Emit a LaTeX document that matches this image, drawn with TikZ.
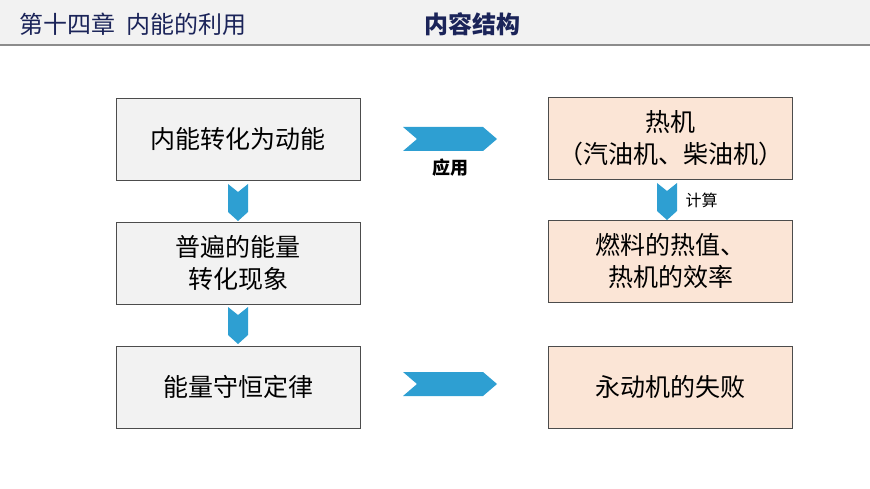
\documentclass[tikz,border=0pt]{standalone}
\usepackage{fontspec}
\setmainfont{Noto Sans CJK SC}
\usepackage{tikz}
\usetikzlibrary{positioning, calc}
\definecolor{navy}{HTML}{1B2459}
\definecolor{chev}{HTML}{2E9FD2}
\definecolor{peach}{HTML}{FBE5D6}
\tikzset{
    graybox/.style={draw=black!70, fill=black!5, minimum width=244pt, minimum height=82pt, align=center, font=\fontsize{25}{32}\selectfont},
    peachbox/.style={graybox, fill=peach},
}
% chevron pointing right: (left x, top y), width, height
\def\chevR#1#2{%
    \fill[chev] (#1,#2) -- ++(80,0) -- ++(14,12) -- ++(-14,12) -- ++(-80,0) -- ++(14,-12) -- cycle;
}
% chevron pointing down
\def\chevD#1#2{%
    \fill[chev] (#1,#2) -- ++(10,8) -- ++(10,-8) -- ++(0,28) -- ++(-10,9) -- ++(-10,-9) -- cycle;
}
\begin{document}
\begin{tikzpicture}[x=1pt, y=-1pt]
    \useasboundingbox (0,0) rectangle (870,489);
    % header
    \fill[black!5] (0,0) rectangle (870,45);
    \draw[black!45, line width=1.5pt] (0,45) -- (870,45);
    \node[anchor=west, text=navy, font=\fontsize{24}{28}\selectfont] (chapter) at (16,24) {第十四章\ \ 内能的利用};
    \node[text=navy, font=\fontsize{24}{28}\selectfont\bfseries] (title) at (472,24) {内容结构};

    % boxes
    \node[graybox] (convert) at (238,139.5) {内能转化为动能};
    \node[graybox] (common) at (238,263) {普遍的能量\\转化现象};
    \node[graybox] (conserve) at (238,387) {能量守恒定律};
    \node[peachbox] (engine) at (670.5,138.5) {热机\\（汽油机、柴油机）};
    \node[peachbox] (fuel) at (670.5,261) {燃料的热值、\\热机的效率};
    \node[peachbox] (perpetual) at (670.5,387) {永动机的失败};

    % chevrons
    \chevR{403}{127}
    \chevR{403}{372}
    \chevD{228}{184}
    \chevD{228}{307}
    \chevD{657}{183}
    \node[font=\fontsize{18}{22}\selectfont\bfseries] (apply) at (450,168) {应用};
    \node[anchor=west, font=\fontsize{16}{19}\selectfont] (calc) at (682,200) {计算};
\end{tikzpicture}
\end{document}
